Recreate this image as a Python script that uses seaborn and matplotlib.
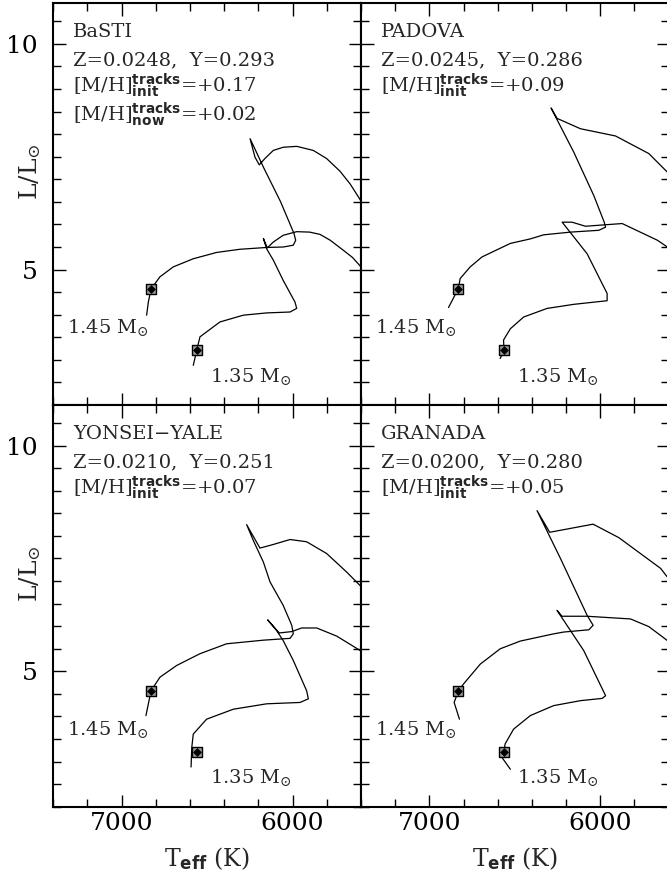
import matplotlib
matplotlib.use("Agg")
import matplotlib.pyplot as plt
import seaborn as sns
from matplotlib.ticker import MultipleLocator

sns.set_style("ticks")
plt.rcParams["font.family"] = ["DejaVu Serif"]
plt.rcParams["mathtext.fontset"] = "custom"
plt.rcParams["mathtext.rm"] = "DejaVu Serif"
plt.rcParams["mathtext.it"] = "DejaVu Serif:italic"
plt.rcParams["mathtext.bf"] = "DejaVu Sans:bold"
plt.rcParams["mathtext.sf"] = "DejaVu Sans"

# ---- tracks (Teff in K, L in Lsun) ----
basti_145_teff = [6854, 6844, 6828, 6776, 6698, 6581, 6444, 6308, 6152, 6055, 5996, 5982, 5992,
                  6070, 6171, 6230, 6249, 6220, 6195, 6162, 6113, 6055, 5976, 5879, 5801, 5723,
                  5664, 5600]
basti_145_lum = [3.99, 4.28, 4.57, 4.84, 5.06, 5.24, 5.38, 5.45, 5.49, 5.50, 5.54, 5.65, 5.80,
                 6.50, 7.27, 7.75, 7.90, 7.49, 7.32, 7.46, 7.64, 7.71, 7.73, 7.64, 7.46, 7.18,
                 6.90, 6.52]
basti_135_teff = [6581, 6561, 6542, 6425, 6288, 6152, 6015, 5976, 5986, 6055, 6113, 6152, 6171,
                  6148, 6113, 6055, 5976, 5900, 5840, 5780, 5704, 5650, 5600]
basti_135_lum = [2.88, 3.21, 3.51, 3.84, 3.99, 4.04, 4.06, 4.14, 4.28, 4.76, 5.21, 5.46, 5.69,
                 5.48, 5.61, 5.76, 5.84, 5.83, 5.78, 5.65, 5.43, 5.27, 5.06]

padova_145_teff = [6888, 6830, 6820, 6761, 6692, 6526, 6409, 6331, 6175, 6009, 5969, 5977, 6038,
                   6155, 6288, 6253, 6116, 5911, 5716, 5600]
padova_145_lum = [4.16, 4.58, 4.80, 5.06, 5.28, 5.58, 5.68, 5.77, 5.83, 5.87, 5.94, 6.05, 6.64,
                  7.60, 8.58, 8.35, 8.12, 7.96, 7.57, 7.13]
padova_135_teff = [6586, 6563, 6566, 6526, 6448, 6311, 6155, 5960, 5960, 6077, 6223, 6165, 6087,
                   5872, 5666, 5600]
padova_135_lum = [3.03, 3.21, 3.44, 3.69, 3.95, 4.14, 4.23, 4.31, 4.47, 5.35, 6.05, 6.05, 5.96,
                  6.02, 5.65, 5.48]

yale_145_teff = [6858, 6828, 6776, 6678, 6542, 6386, 6171, 6015, 5996, 6005, 6055, 6132, 6171,
                 6230, 6269, 6191, 6113, 6015, 5918, 5801, 5684, 5600]
yale_145_lum = [4.02, 4.57, 4.87, 5.13, 5.39, 5.61, 5.69, 5.73, 5.83, 6.02, 6.46, 6.98, 7.42,
                7.90, 8.25, 7.73, 7.81, 7.92, 7.87, 7.61, 7.20, 6.88]
yale_135_teff = [6594, 6590, 6581, 6503, 6347, 6152, 5957, 5908, 5918, 5996, 6055, 6093, 6146,
                 6078, 6005, 5947, 5859, 5742, 5600]
yale_135_lum = [2.88, 3.31, 3.61, 3.94, 4.16, 4.28, 4.31, 4.39, 4.57, 5.24, 5.68, 5.90, 6.14,
                5.85, 5.88, 5.96, 5.96, 5.78, 5.45]

granada_145_teff = [6824, 6855, 6830, 6800, 6702, 6585, 6468, 6273, 6214, 6067, 6042, 6077, 6233,
                    6370, 6296, 6042, 5891, 5647, 5600]
granada_145_lum = [3.94, 4.31, 4.57, 4.72, 5.16, 5.50, 5.67, 5.83, 5.87, 5.92, 6.02, 6.24, 7.50,
                   8.56, 8.08, 8.26, 7.96, 7.28, 7.05]
granada_135_teff = [6526, 6575, 6563, 6557, 6507, 6409, 6273, 6116, 5989, 5969, 6097, 6253, 6224,
                    6077, 5823, 5716, 5600]
granada_135_lum = [2.83, 3.09, 3.22, 3.39, 3.72, 4.02, 4.24, 4.35, 4.40, 4.46, 5.46, 6.35, 6.22,
                   6.22, 6.16, 5.99, 5.66]

# marked points on each track (1.45, 1.35)
marker_teff = [[6828, 6561], [6830, 6563], [6828, 6558], [6830, 6563]]
marker_lum = [[4.57, 3.21], [4.58, 3.21], [4.57, 3.22], [4.57, 3.22]]

model_names = ["BaSTI", "PADOVA", "YONSEI\u2212YALE", "GRANADA"]
z_y_labels = ["Z=0.0248,  Y=0.293", "Z=0.0245,  Y=0.286",
              "Z=0.0210,  Y=0.251", "Z=0.0200,  Y=0.280"]
mh_init = ["+0.17", "+0.09", "+0.07", "+0.05"]
mh_now = ["+0.02", None, None, None]
mass_labels = ["1.45", "1.35"]

tracks = [
    [(basti_145_teff, basti_145_lum), (basti_135_teff, basti_135_lum)],
    [(padova_145_teff, padova_145_lum), (padova_135_teff, padova_135_lum)],
    [(yale_145_teff, yale_145_lum), (yale_135_teff, yale_135_lum)],
    [(granada_145_teff, granada_145_lum), (granada_135_teff, granada_135_lum)],
]

fig = plt.figure(figsize=(6.67, 8.81), dpi=100)
W, H = 0.4613, 0.456
boxes = [[0.0799, 0.5403, W, H], [0.5412, 0.5403, W, H],
         [0.0799, 0.0843, W, H], [0.5412, 0.0843, W, H]]

for i, box in enumerate(boxes):
    ax = fig.add_axes(box)
    for teff, lum in tracks[i]:
        sns.lineplot(x=teff, y=lum, sort=False, estimator=None, color="black",
                     linewidth=0.9, ax=ax)
    sns.scatterplot(x=marker_teff[i], y=marker_lum[i], marker="s", s=55,
                    facecolor="0.6", edgecolor="black", linewidth=1.0, ax=ax, zorder=3)
    sns.scatterplot(x=marker_teff[i], y=marker_lum[i], marker="D", s=16,
                    color="black", edgecolor="black", linewidth=0.5, ax=ax, zorder=4)

    ax.set_xlim(7400, 5600)
    ax.set_ylim(2, 10.9)
    ax.xaxis.set_major_locator(MultipleLocator(1000))
    ax.xaxis.set_minor_locator(MultipleLocator(200))
    ax.yaxis.set_major_locator(MultipleLocator(5))
    ax.yaxis.set_minor_locator(MultipleLocator(0.5))
    ax.tick_params(which="both", direction="in", top=True, right=True, width=1.0,
                   labelsize=18, colors="black")
    ax.tick_params(which="major", length=9)
    ax.tick_params(which="minor", length=5.5)
    ax.tick_params(axis="x", pad=4)
    ax.tick_params(axis="y", pad=11)
    for sp in ax.spines.values():
        sp.set_linewidth(1.5)
        sp.set_color("black")
    ax.set_xlabel("")
    ax.set_ylabel("")

    left = i % 2 == 0
    bottom = i >= 2
    ax.tick_params(labelleft=left, labelbottom=bottom)

    # header text
    tx = 0.064
    ax.text(tx, 0.915, model_names[i], transform=ax.transAxes, fontsize=14, va="baseline")
    ax.text(tx, 0.846, z_y_labels[i], transform=ax.transAxes, fontsize=14, va="baseline")
    ax.text(tx, 0.777, r"[M/H]$^{\mathbf{tracks}}_{\mathbf{init}}$=" + mh_init[i],
            transform=ax.transAxes, fontsize=14, va="baseline")
    if mh_now[i] is not None:
        ax.text(tx, 0.709, r"[M/H]$^{\mathbf{tracks}}_{\mathbf{now}}$=" + mh_now[i],
                transform=ax.transAxes, fontsize=14, va="baseline")

    # mass labels
    ax.text(0.045, 0.178, mass_labels[0] + r" M$_{\odot}$", transform=ax.transAxes,
            fontsize=14, va="baseline")
    ax.text(0.508, 0.058, mass_labels[1] + r" M$_{\odot}$", transform=ax.transAxes,
            fontsize=14, va="baseline")

    if left:
        ax.text(-0.076, 0.58, r"L/L$_{\odot}$", transform=ax.transAxes, rotation=90,
                fontsize=18, ha="center", va="center")
    if bottom:
        ax.text(0.5, -0.149, r"T$_{\mathbf{eff}}$ (K)", transform=ax.transAxes,
                fontsize=17, ha="center", va="baseline")

fig.savefig("out.png", dpi=100)
